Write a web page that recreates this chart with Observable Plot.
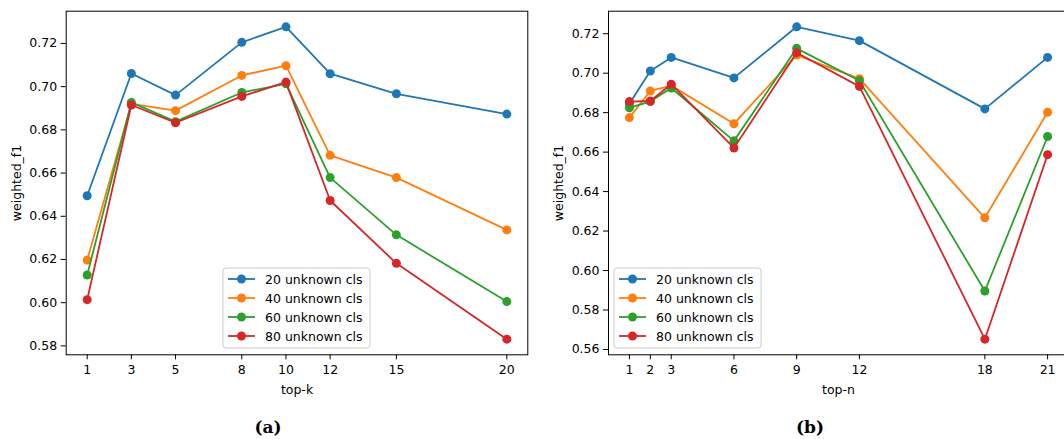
<!DOCTYPE html>
<html>
<head>
<meta charset="utf-8">
<script src="https://cdn.jsdelivr.net/npm/d3@7"></script>
<script src="https://cdn.jsdelivr.net/npm/@observablehq/plot@0.6"></script>
<style>
  html, body { margin: 0; padding: 0; background: white; }
  body { width: 1064px; height: 439px; overflow: hidden; position: relative; }
  #wrap { position: absolute; left: 0; top: 0; width: 1064px; height: 439px; overflow: hidden; }
  .panel { position: absolute; top: 0; }
  .cap { position: absolute; font-family: "DejaVu Serif", serif; font-weight: bold; font-size: 17px; transform: translateX(-50%); line-height: 1; }
</style>
</head>
<body>
<div id="wrap"></div>
<script>
// ---- data ----
const seriesNames = ["20 unknown cls", "40 unknown cls", "60 unknown cls", "80 unknown cls"];
const seriesColors = ["#1f77b4", "#ff7f0e", "#2ca02c", "#d62728"];

// panel (a): top-k
const topK = [1, 3, 5, 8, 10, 12, 15, 20];
const a20 = [0.6495, 0.7061, 0.6961, 0.7205, 0.7277, 0.7060, 0.6967, 0.6873];
const a40 = [0.6197, 0.6920, 0.6889, 0.7052, 0.7097, 0.6682, 0.6579, 0.6337];
const a60 = [0.6128, 0.6927, 0.6838, 0.6973, 0.7013, 0.6579, 0.6314, 0.6005];
const a80 = [0.6014, 0.6915, 0.6833, 0.6955, 0.7021, 0.6473, 0.6182, 0.5831];
const aYTicks = [0.58, 0.60, 0.62, 0.64, 0.66, 0.68, 0.70, 0.72];

// panel (b): top-n
const topN = [1, 2, 3, 6, 9, 12, 18, 21];
const b20 = [0.6845, 0.7011, 0.7080, 0.6976, 0.7235, 0.7165, 0.6819, 0.7080];
const b40 = [0.6775, 0.6910, 0.6937, 0.6744, 0.7092, 0.6972, 0.6267, 0.6802];
const b60 = [0.6825, 0.6856, 0.6925, 0.6657, 0.7126, 0.6962, 0.5896, 0.6679];
const b80 = [0.6856, 0.6859, 0.6944, 0.6621, 0.7104, 0.6933, 0.5652, 0.6587];
const bYTicks = [0.56, 0.58, 0.60, 0.62, 0.64, 0.66, 0.68, 0.70, 0.72];

const FONT = "DejaVu Sans";
const FS = 12.5;

function padded(ext) {
  const m = (ext[1] - ext[0]) * 0.05;
  return [ext[0] - m, ext[1] + m];
}

function makePanel({xs, ys, yTicks, xLabel, left, marginLeft, marginRight}) {
  const rows = [];
  ys.forEach((arr, i) => arr.forEach((v, j) => rows.push({x: xs[j], y: v, s: i})));
  const marks = [Plot.frame({stroke: "black", strokeWidth: 1})];
  ys.forEach((arr, i) => {
    const d = rows.filter(r => r.s === i);
    marks.push(Plot.line(d, {x: "x", y: "y", stroke: seriesColors[i], strokeWidth: 1.8}));
    marks.push(Plot.dot(d, {x: "x", y: "y", fill: seriesColors[i], r: 4.5}));
  });
  const svg = Plot.plot({
    width: 540,
    height: 400,
    marginLeft, marginRight,
    marginTop: 10.7,
    marginBottom: 45.7,
    style: {fontFamily: FONT, fontSize: FS + "px", background: "transparent", color: "black", maxWidth: "none", overflow: "visible"},
    x: {
      domain: padded(d3.extent(xs)),
      ticks: xs,
      tickFormat: d => String(d),
      tickSize: 5,
      tickPadding: 5.5,
      label: xLabel,
      labelAnchor: "center",
      labelOffset: 39,
      labelArrow: "none"
    },
    y: {
      domain: padded(d3.extent(ys.flat())),
      ticks: yTicks,
      tickFormat: d3.format(".2f"),
      tickSize: 5,
      tickPadding: 4,
      label: "weighted_f1",
      labelAnchor: "center",
      labelOffset: 54,
      labelArrow: "none"
    },
    marks
  });
  const div = document.createElement("div");
  div.className = "panel";
  div.style.left = left + "px";
  div.appendChild(svg);
  document.getElementById("wrap").appendChild(div);
}

function makeLegend(boxLeft, boxTop) {
  const w = 147, h = 80, rowGap = 19;
  const svg = d3.select("#wrap").append("svg")
    .attr("width", w + 2).attr("height", h + 2)
    .style("position", "absolute")
    .style("left", (boxLeft - 1) + "px")
    .style("top", (boxTop - 1) + "px")
    .style("font-family", FONT)
    .style("font-size", FS + "px");
  svg.append("rect")
    .attr("x", 1).attr("y", 1).attr("width", w).attr("height", h)
    .attr("rx", 3).attr("ry", 3)
    .attr("fill", "white").attr("fill-opacity", 0.8)
    .attr("stroke", "#cccccc").attr("stroke-width", 1);
  seriesNames.forEach((name, i) => {
    const cy = 1 + 11 + i * rowGap;
    svg.append("line")
      .attr("x1", 6).attr("x2", 33).attr("y1", cy).attr("y2", cy)
      .attr("stroke", seriesColors[i]).attr("stroke-width", 1.8);
    svg.append("circle")
      .attr("cx", 19.5).attr("cy", cy).attr("r", 4.5)
      .attr("fill", seriesColors[i]);
    svg.append("text")
      .attr("x", 43).attr("y", cy).attr("dy", "0.36em")
      .attr("fill", "black")
      .text(name);
  });
}

function caption(text, cx, top) {
  const d = document.createElement("div");
  d.className = "cap";
  d.style.left = cx + "px";
  d.style.top = top + "px";
  d.textContent = text;
  document.getElementById("wrap").appendChild(d);
}

makePanel({xs: topK, ys: [a20, a40, a60, a80], yTicks: aYTicks, xLabel: "top-k", left: 0, marginLeft: 65.7, marginRight: 12.7});
makePanel({xs: topN, ys: [b20, b40, b60, b80], yTicks: bYTicks, xLabel: "top-n", left: 540, marginLeft: 68, marginRight: 12});
makeLegend(223, 268);
makeLegend(614, 268);
caption("(a)", 268, 419);
caption("(b)", 810, 419);
</script>
</body>
</html>
